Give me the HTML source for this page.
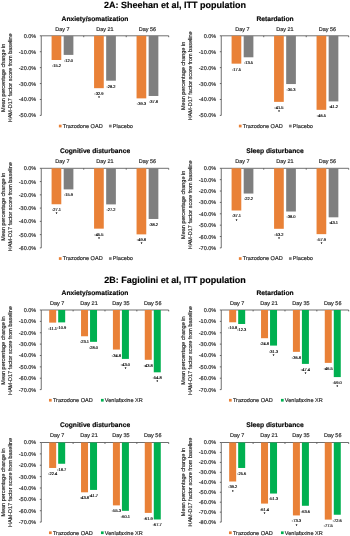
<!DOCTYPE html>
<html><head><meta charset="utf-8"><style>
html,body{margin:0;padding:0;background:#fff;width:350px;height:536px;overflow:hidden}
svg{display:block;will-change:transform;text-rendering:geometricPrecision;font-family:"Liberation Sans",sans-serif}
</style></head><body>
<svg width="350" height="536" viewBox="0 0 350 536">
<rect width="350" height="536" fill="#fff"/>
<text x="95" y="20.5" font-size="6.7" text-anchor="middle" font-weight="bold" fill="#000" stroke="#000" stroke-width="0.15">Anxiety/somatization</text>
<path d="M41.25 35.8V115.4M41.25 35.8H168.7" stroke="#555555" stroke-width="0.85" fill="none"/>
<path d="M39.85 35.8H41.25M39.85 51.72H41.25M39.85 67.64H41.25M39.85 83.56H41.25M39.85 99.48H41.25M39.85 115.4H41.25M83.73 35.8V37.2M126.22 35.8V37.2M168.7 35.8V37.2" stroke="#555555" stroke-width="0.9" fill="none"/>
<text x="36.2" y="37.78" font-size="5.5" text-anchor="end" font-weight="normal" fill="#262626" stroke="#262626" stroke-width="0.16">0.0%</text>
<text x="36.2" y="53.7" font-size="5.5" text-anchor="end" font-weight="normal" fill="#262626" stroke="#262626" stroke-width="0.16">-10.0%</text>
<text x="36.2" y="69.62" font-size="5.5" text-anchor="end" font-weight="normal" fill="#262626" stroke="#262626" stroke-width="0.16">-20.0%</text>
<text x="36.2" y="85.54" font-size="5.5" text-anchor="end" font-weight="normal" fill="#262626" stroke="#262626" stroke-width="0.16">-30.0%</text>
<text x="36.2" y="101.46" font-size="5.5" text-anchor="end" font-weight="normal" fill="#262626" stroke="#262626" stroke-width="0.16">-40.0%</text>
<text x="36.2" y="117.38" font-size="5.5" text-anchor="end" font-weight="normal" fill="#262626" stroke="#262626" stroke-width="0.16">-50.0%</text>
<text x="0" y="0" font-size="5.5" text-anchor="middle" font-weight="normal" fill="#262626" stroke="#262626" stroke-width="0.16" transform="translate(5.1 77.8) rotate(-90)">Mean percentage change in</text>
<text x="0" y="0" font-size="5.5" text-anchor="middle" font-weight="normal" fill="#262626" stroke="#262626" stroke-width="0.16" transform="translate(11.9 77.8) rotate(-90)">HAM-D17 factor score from baseline</text>
<text x="62.49" y="30.55" font-size="5.5" text-anchor="middle" font-weight="normal" fill="#262626" stroke="#262626" stroke-width="0.16">Day 7</text>
<rect x="51.59" y="35.8" width="9.7" height="24.2" fill="#E98137"/>
<text x="56.44" y="66.94" font-size="4.0" text-anchor="middle" font-weight="normal" fill="#000" stroke="#000" stroke-width="0.15">-15.2</text>
<rect x="63.69" y="35.8" width="9.7" height="19.1" fill="#7F7F7F"/>
<text x="68.54" y="61.84" font-size="4.0" text-anchor="middle" font-weight="normal" fill="#000" stroke="#000" stroke-width="0.15">-12.0</text>
<text x="104.97" y="30.55" font-size="5.5" text-anchor="middle" font-weight="normal" fill="#262626" stroke="#262626" stroke-width="0.16">Day 21</text>
<rect x="94.07" y="35.8" width="9.7" height="52.38" fill="#E98137"/>
<text x="98.92" y="95.12" font-size="4.0" text-anchor="middle" font-weight="normal" fill="#000" stroke="#000" stroke-width="0.15">-32.9</text>
<text x="98.92" y="99.28" font-size="4.0" text-anchor="middle" font-weight="normal" fill="#000" stroke="#000" stroke-width="0.15">*</text>
<rect x="106.17" y="35.8" width="9.7" height="44.89" fill="#7F7F7F"/>
<text x="111.02" y="87.63" font-size="4.0" text-anchor="middle" font-weight="normal" fill="#000" stroke="#000" stroke-width="0.15">-28.2</text>
<text x="147.46" y="30.55" font-size="5.5" text-anchor="middle" font-weight="normal" fill="#262626" stroke="#262626" stroke-width="0.16">Day 56</text>
<rect x="136.56" y="35.8" width="9.7" height="62.57" fill="#E98137"/>
<text x="141.41" y="105.31" font-size="4.0" text-anchor="middle" font-weight="normal" fill="#000" stroke="#000" stroke-width="0.15">-39.3</text>
<rect x="148.66" y="35.8" width="9.7" height="60.18" fill="#7F7F7F"/>
<text x="153.51" y="102.92" font-size="4.0" text-anchor="middle" font-weight="normal" fill="#000" stroke="#000" stroke-width="0.15">-37.8</text>
<text x="275" y="20.5" font-size="6.7" text-anchor="middle" font-weight="bold" fill="#000" stroke="#000" stroke-width="0.15">Retardation</text>
<path d="M221.25 35.8V115.4M221.25 35.8H348.7" stroke="#555555" stroke-width="0.85" fill="none"/>
<path d="M219.85 35.8H221.25M219.85 51.72H221.25M219.85 67.64H221.25M219.85 83.56H221.25M219.85 99.48H221.25M219.85 115.4H221.25M263.73 35.8V37.2M306.22 35.8V37.2M348.7 35.8V37.2" stroke="#555555" stroke-width="0.9" fill="none"/>
<text x="216.2" y="37.78" font-size="5.5" text-anchor="end" font-weight="normal" fill="#262626" stroke="#262626" stroke-width="0.16">0.0%</text>
<text x="216.2" y="53.7" font-size="5.5" text-anchor="end" font-weight="normal" fill="#262626" stroke="#262626" stroke-width="0.16">-10.0%</text>
<text x="216.2" y="69.62" font-size="5.5" text-anchor="end" font-weight="normal" fill="#262626" stroke="#262626" stroke-width="0.16">-20.0%</text>
<text x="216.2" y="85.54" font-size="5.5" text-anchor="end" font-weight="normal" fill="#262626" stroke="#262626" stroke-width="0.16">-30.0%</text>
<text x="216.2" y="101.46" font-size="5.5" text-anchor="end" font-weight="normal" fill="#262626" stroke="#262626" stroke-width="0.16">-40.0%</text>
<text x="216.2" y="117.38" font-size="5.5" text-anchor="end" font-weight="normal" fill="#262626" stroke="#262626" stroke-width="0.16">-50.0%</text>
<text x="0" y="0" font-size="5.5" text-anchor="middle" font-weight="normal" fill="#262626" stroke="#262626" stroke-width="0.16" transform="translate(185.1 75.9) rotate(-90)">Mean percentage change in</text>
<text x="0" y="0" font-size="5.5" text-anchor="middle" font-weight="normal" fill="#262626" stroke="#262626" stroke-width="0.16" transform="translate(191.9 75.9) rotate(-90)">HAM-D17 factor score from baseline</text>
<text x="242.49" y="30.55" font-size="5.5" text-anchor="middle" font-weight="normal" fill="#262626" stroke="#262626" stroke-width="0.16">Day 7</text>
<rect x="231.59" y="35.8" width="9.7" height="27.86" fill="#E98137"/>
<text x="236.44" y="70.6" font-size="4.0" text-anchor="middle" font-weight="normal" fill="#000" stroke="#000" stroke-width="0.15">-17.5</text>
<rect x="243.69" y="35.8" width="9.7" height="21.49" fill="#7F7F7F"/>
<text x="248.54" y="64.23" font-size="4.0" text-anchor="middle" font-weight="normal" fill="#000" stroke="#000" stroke-width="0.15">-13.5</text>
<text x="284.98" y="30.55" font-size="5.5" text-anchor="middle" font-weight="normal" fill="#262626" stroke="#262626" stroke-width="0.16">Day 21</text>
<rect x="274.08" y="35.8" width="9.7" height="66.07" fill="#E98137"/>
<text x="278.93" y="108.81" font-size="4.0" text-anchor="middle" font-weight="normal" fill="#000" stroke="#000" stroke-width="0.15">-41.5</text>
<text x="278.93" y="112.97" font-size="4.0" text-anchor="middle" font-weight="normal" fill="#000" stroke="#000" stroke-width="0.15">*</text>
<rect x="286.18" y="35.8" width="9.7" height="48.24" fill="#7F7F7F"/>
<text x="291.03" y="90.98" font-size="4.0" text-anchor="middle" font-weight="normal" fill="#000" stroke="#000" stroke-width="0.15">-30.3</text>
<text x="327.46" y="30.55" font-size="5.5" text-anchor="middle" font-weight="normal" fill="#262626" stroke="#262626" stroke-width="0.16">Day 56</text>
<rect x="316.56" y="35.8" width="9.7" height="74.03" fill="#E98137"/>
<text x="321.41" y="116.77" font-size="4.0" text-anchor="middle" font-weight="normal" fill="#000" stroke="#000" stroke-width="0.15">-46.5</text>
<rect x="328.66" y="35.8" width="9.7" height="65.59" fill="#7F7F7F"/>
<text x="333.51" y="108.33" font-size="4.0" text-anchor="middle" font-weight="normal" fill="#000" stroke="#000" stroke-width="0.15">-41.2</text>
<text x="95" y="153" font-size="6.7" text-anchor="middle" font-weight="bold" fill="#000" stroke="#000" stroke-width="0.15">Cognitive disturbance</text>
<path d="M41.25 168.3V247.9M41.25 168.3H168.7" stroke="#555555" stroke-width="0.85" fill="none"/>
<path d="M39.85 168.3H41.25M39.85 181.57H41.25M39.85 194.83H41.25M39.85 208.1H41.25M39.85 221.37H41.25M39.85 234.63H41.25M39.85 247.9H41.25M83.73 168.3V169.7M126.22 168.3V169.7M168.7 168.3V169.7" stroke="#555555" stroke-width="0.9" fill="none"/>
<text x="36.2" y="170.28" font-size="5.5" text-anchor="end" font-weight="normal" fill="#262626" stroke="#262626" stroke-width="0.16">0.0%</text>
<text x="36.2" y="183.55" font-size="5.5" text-anchor="end" font-weight="normal" fill="#262626" stroke="#262626" stroke-width="0.16">-10.0%</text>
<text x="36.2" y="196.81" font-size="5.5" text-anchor="end" font-weight="normal" fill="#262626" stroke="#262626" stroke-width="0.16">-20.0%</text>
<text x="36.2" y="210.08" font-size="5.5" text-anchor="end" font-weight="normal" fill="#262626" stroke="#262626" stroke-width="0.16">-30.0%</text>
<text x="36.2" y="223.35" font-size="5.5" text-anchor="end" font-weight="normal" fill="#262626" stroke="#262626" stroke-width="0.16">-40.0%</text>
<text x="36.2" y="236.61" font-size="5.5" text-anchor="end" font-weight="normal" fill="#262626" stroke="#262626" stroke-width="0.16">-50.0%</text>
<text x="36.2" y="249.88" font-size="5.5" text-anchor="end" font-weight="normal" fill="#262626" stroke="#262626" stroke-width="0.16">-60.0%</text>
<text x="0" y="0" font-size="5.5" text-anchor="middle" font-weight="normal" fill="#262626" stroke="#262626" stroke-width="0.16" transform="translate(5.1 206.7) rotate(-90)">Mean percentage change in</text>
<text x="0" y="0" font-size="5.5" text-anchor="middle" font-weight="normal" fill="#262626" stroke="#262626" stroke-width="0.16" transform="translate(11.9 206.7) rotate(-90)">HAM-D17 factor score from baseline</text>
<text x="62.49" y="163.05" font-size="5.5" text-anchor="middle" font-weight="normal" fill="#262626" stroke="#262626" stroke-width="0.16">Day 7</text>
<rect x="51.59" y="168.3" width="9.7" height="35.95" fill="#E98137"/>
<text x="56.44" y="211.19" font-size="4.0" text-anchor="middle" font-weight="normal" fill="#000" stroke="#000" stroke-width="0.15">-27.1</text>
<text x="56.44" y="215.35" font-size="4.0" text-anchor="middle" font-weight="normal" fill="#000" stroke="#000" stroke-width="0.15">*</text>
<rect x="63.69" y="168.3" width="9.7" height="21.09" fill="#7F7F7F"/>
<text x="68.54" y="196.33" font-size="4.0" text-anchor="middle" font-weight="normal" fill="#000" stroke="#000" stroke-width="0.15">-15.9</text>
<text x="104.97" y="163.05" font-size="5.5" text-anchor="middle" font-weight="normal" fill="#262626" stroke="#262626" stroke-width="0.16">Day 21</text>
<rect x="94.07" y="168.3" width="9.7" height="60.36" fill="#E98137"/>
<text x="98.92" y="235.6" font-size="4.0" text-anchor="middle" font-weight="normal" fill="#000" stroke="#000" stroke-width="0.15">-45.5</text>
<text x="98.92" y="239.76" font-size="4.0" text-anchor="middle" font-weight="normal" fill="#000" stroke="#000" stroke-width="0.15">*</text>
<rect x="106.17" y="168.3" width="9.7" height="36.09" fill="#7F7F7F"/>
<text x="111.02" y="211.33" font-size="4.0" text-anchor="middle" font-weight="normal" fill="#000" stroke="#000" stroke-width="0.15">-27.2</text>
<text x="147.46" y="163.05" font-size="5.5" text-anchor="middle" font-weight="normal" fill="#262626" stroke="#262626" stroke-width="0.16">Day 56</text>
<rect x="136.56" y="168.3" width="9.7" height="66.07" fill="#E98137"/>
<text x="141.41" y="241.31" font-size="4.0" text-anchor="middle" font-weight="normal" fill="#000" stroke="#000" stroke-width="0.15">-49.8</text>
<text x="141.41" y="245.47" font-size="4.0" text-anchor="middle" font-weight="normal" fill="#000" stroke="#000" stroke-width="0.15">*</text>
<rect x="148.66" y="168.3" width="9.7" height="50.68" fill="#7F7F7F"/>
<text x="153.51" y="225.92" font-size="4.0" text-anchor="middle" font-weight="normal" fill="#000" stroke="#000" stroke-width="0.15">-38.2</text>
<text x="275" y="153" font-size="6.7" text-anchor="middle" font-weight="bold" fill="#000" stroke="#000" stroke-width="0.15">Sleep disturbance</text>
<path d="M221.25 168.3V247.9M221.25 168.3H348.7" stroke="#555555" stroke-width="0.85" fill="none"/>
<path d="M219.85 168.3H221.25M219.85 179.67H221.25M219.85 191.04H221.25M219.85 202.41H221.25M219.85 213.79H221.25M219.85 225.16H221.25M219.85 236.53H221.25M219.85 247.9H221.25M263.73 168.3V169.7M306.22 168.3V169.7M348.7 168.3V169.7" stroke="#555555" stroke-width="0.9" fill="none"/>
<text x="216.2" y="170.28" font-size="5.5" text-anchor="end" font-weight="normal" fill="#262626" stroke="#262626" stroke-width="0.16">0.0%</text>
<text x="216.2" y="181.65" font-size="5.5" text-anchor="end" font-weight="normal" fill="#262626" stroke="#262626" stroke-width="0.16">-10.0%</text>
<text x="216.2" y="193.02" font-size="5.5" text-anchor="end" font-weight="normal" fill="#262626" stroke="#262626" stroke-width="0.16">-20.0%</text>
<text x="216.2" y="204.39" font-size="5.5" text-anchor="end" font-weight="normal" fill="#262626" stroke="#262626" stroke-width="0.16">-30.0%</text>
<text x="216.2" y="215.77" font-size="5.5" text-anchor="end" font-weight="normal" fill="#262626" stroke="#262626" stroke-width="0.16">-40.0%</text>
<text x="216.2" y="227.14" font-size="5.5" text-anchor="end" font-weight="normal" fill="#262626" stroke="#262626" stroke-width="0.16">-50.0%</text>
<text x="216.2" y="238.51" font-size="5.5" text-anchor="end" font-weight="normal" fill="#262626" stroke="#262626" stroke-width="0.16">-60.0%</text>
<text x="216.2" y="249.88" font-size="5.5" text-anchor="end" font-weight="normal" fill="#262626" stroke="#262626" stroke-width="0.16">-70.0%</text>
<text x="0" y="0" font-size="5.5" text-anchor="middle" font-weight="normal" fill="#262626" stroke="#262626" stroke-width="0.16" transform="translate(185.1 204.8) rotate(-90)">Mean percentage change in</text>
<text x="0" y="0" font-size="5.5" text-anchor="middle" font-weight="normal" fill="#262626" stroke="#262626" stroke-width="0.16" transform="translate(191.9 204.8) rotate(-90)">HAM-D17 factor score from baseline</text>
<text x="242.49" y="163.05" font-size="5.5" text-anchor="middle" font-weight="normal" fill="#262626" stroke="#262626" stroke-width="0.16">Day 7</text>
<rect x="231.59" y="168.3" width="9.7" height="42.19" fill="#E98137"/>
<text x="236.44" y="217.43" font-size="4.0" text-anchor="middle" font-weight="normal" fill="#000" stroke="#000" stroke-width="0.15">-37.1</text>
<text x="236.44" y="221.59" font-size="4.0" text-anchor="middle" font-weight="normal" fill="#000" stroke="#000" stroke-width="0.15">*</text>
<rect x="243.69" y="168.3" width="9.7" height="25.24" fill="#7F7F7F"/>
<text x="248.54" y="200.48" font-size="4.0" text-anchor="middle" font-weight="normal" fill="#000" stroke="#000" stroke-width="0.15">-22.2</text>
<text x="284.98" y="163.05" font-size="5.5" text-anchor="middle" font-weight="normal" fill="#262626" stroke="#262626" stroke-width="0.16">Day 21</text>
<rect x="274.08" y="168.3" width="9.7" height="60.5" fill="#E98137"/>
<text x="278.93" y="235.74" font-size="4.0" text-anchor="middle" font-weight="normal" fill="#000" stroke="#000" stroke-width="0.15">-53.2</text>
<text x="278.93" y="239.9" font-size="4.0" text-anchor="middle" font-weight="normal" fill="#000" stroke="#000" stroke-width="0.15">*</text>
<rect x="286.18" y="168.3" width="9.7" height="43.21" fill="#7F7F7F"/>
<text x="291.03" y="218.45" font-size="4.0" text-anchor="middle" font-weight="normal" fill="#000" stroke="#000" stroke-width="0.15">-38.0</text>
<text x="327.46" y="163.05" font-size="5.5" text-anchor="middle" font-weight="normal" fill="#262626" stroke="#262626" stroke-width="0.16">Day 56</text>
<rect x="316.56" y="168.3" width="9.7" height="65.84" fill="#E98137"/>
<text x="321.41" y="241.08" font-size="4.0" text-anchor="middle" font-weight="normal" fill="#000" stroke="#000" stroke-width="0.15">-57.9</text>
<text x="321.41" y="245.24" font-size="4.0" text-anchor="middle" font-weight="normal" fill="#000" stroke="#000" stroke-width="0.15">*</text>
<rect x="328.66" y="168.3" width="9.7" height="49.01" fill="#7F7F7F"/>
<text x="333.51" y="224.25" font-size="4.0" text-anchor="middle" font-weight="normal" fill="#000" stroke="#000" stroke-width="0.15">-43.1</text>
<text x="95" y="294.7" font-size="6.7" text-anchor="middle" font-weight="bold" fill="#000" stroke="#000" stroke-width="0.15">Anxiety/somatization</text>
<path d="M41.25 310V389.6M41.25 310H168.7" stroke="#555555" stroke-width="0.85" fill="none"/>
<path d="M39.85 310H41.25M39.85 321.37H41.25M39.85 332.74H41.25M39.85 344.11H41.25M39.85 355.49H41.25M39.85 366.86H41.25M39.85 378.23H41.25M39.85 389.6H41.25M73.11 310V311.4M104.97 310V311.4M136.84 310V311.4M168.7 310V311.4" stroke="#555555" stroke-width="0.9" fill="none"/>
<text x="36.2" y="311.98" font-size="5.5" text-anchor="end" font-weight="normal" fill="#262626" stroke="#262626" stroke-width="0.16">0.0%</text>
<text x="36.2" y="323.35" font-size="5.5" text-anchor="end" font-weight="normal" fill="#262626" stroke="#262626" stroke-width="0.16">-10.0%</text>
<text x="36.2" y="334.72" font-size="5.5" text-anchor="end" font-weight="normal" fill="#262626" stroke="#262626" stroke-width="0.16">-20.0%</text>
<text x="36.2" y="346.09" font-size="5.5" text-anchor="end" font-weight="normal" fill="#262626" stroke="#262626" stroke-width="0.16">-30.0%</text>
<text x="36.2" y="357.47" font-size="5.5" text-anchor="end" font-weight="normal" fill="#262626" stroke="#262626" stroke-width="0.16">-40.0%</text>
<text x="36.2" y="368.84" font-size="5.5" text-anchor="end" font-weight="normal" fill="#262626" stroke="#262626" stroke-width="0.16">-50.0%</text>
<text x="36.2" y="380.21" font-size="5.5" text-anchor="end" font-weight="normal" fill="#262626" stroke="#262626" stroke-width="0.16">-60.0%</text>
<text x="36.2" y="391.58" font-size="5.5" text-anchor="end" font-weight="normal" fill="#262626" stroke="#262626" stroke-width="0.16">-70.0%</text>
<text x="0" y="0" font-size="5.5" text-anchor="middle" font-weight="normal" fill="#262626" stroke="#262626" stroke-width="0.16" transform="translate(5.1 350.6) rotate(-90)">Mean percentage change in</text>
<text x="0" y="0" font-size="5.5" text-anchor="middle" font-weight="normal" fill="#262626" stroke="#262626" stroke-width="0.16" transform="translate(11.9 350.6) rotate(-90)">HAM-D17 factor score from baseline</text>
<text x="57.18" y="304.75" font-size="5.5" text-anchor="middle" font-weight="normal" fill="#262626" stroke="#262626" stroke-width="0.16">Day 7</text>
<rect x="49.18" y="310" width="7" height="12.62" fill="#E98137"/>
<text x="52.68" y="329.56" font-size="4.0" text-anchor="middle" font-weight="normal" fill="#000" stroke="#000" stroke-width="0.15">-11.1</text>
<rect x="58.18" y="310" width="7" height="12.39" fill="#00B050"/>
<text x="61.68" y="329.33" font-size="4.0" text-anchor="middle" font-weight="normal" fill="#000" stroke="#000" stroke-width="0.15">-10.9</text>
<text x="89.04" y="304.75" font-size="5.5" text-anchor="middle" font-weight="normal" fill="#262626" stroke="#262626" stroke-width="0.16">Day 21</text>
<rect x="81.04" y="310" width="7" height="26.27" fill="#E98137"/>
<text x="84.54" y="343.21" font-size="4.0" text-anchor="middle" font-weight="normal" fill="#000" stroke="#000" stroke-width="0.15">-23.1</text>
<rect x="90.04" y="310" width="7" height="31.84" fill="#00B050"/>
<text x="93.54" y="348.78" font-size="4.0" text-anchor="middle" font-weight="normal" fill="#000" stroke="#000" stroke-width="0.15">-28.0</text>
<text x="120.91" y="304.75" font-size="5.5" text-anchor="middle" font-weight="normal" fill="#262626" stroke="#262626" stroke-width="0.16">Day 35</text>
<rect x="112.91" y="310" width="7" height="39.57" fill="#E98137"/>
<text x="116.41" y="356.51" font-size="4.0" text-anchor="middle" font-weight="normal" fill="#000" stroke="#000" stroke-width="0.15">-34.8</text>
<rect x="121.91" y="310" width="7" height="48.9" fill="#00B050"/>
<text x="125.41" y="365.84" font-size="4.0" text-anchor="middle" font-weight="normal" fill="#000" stroke="#000" stroke-width="0.15">-43.0</text>
<text x="125.41" y="370" font-size="4.0" text-anchor="middle" font-weight="normal" fill="#000" stroke="#000" stroke-width="0.15">*</text>
<text x="152.77" y="304.75" font-size="5.5" text-anchor="middle" font-weight="normal" fill="#262626" stroke="#262626" stroke-width="0.16">Day 56</text>
<rect x="144.77" y="310" width="7" height="49.81" fill="#E98137"/>
<text x="148.27" y="366.75" font-size="4.0" text-anchor="middle" font-weight="normal" fill="#000" stroke="#000" stroke-width="0.15">-43.8</text>
<rect x="153.77" y="310" width="7" height="62.32" fill="#00B050"/>
<text x="157.27" y="379.26" font-size="4.0" text-anchor="middle" font-weight="normal" fill="#000" stroke="#000" stroke-width="0.15">-54.8</text>
<text x="157.27" y="383.42" font-size="4.0" text-anchor="middle" font-weight="normal" fill="#000" stroke="#000" stroke-width="0.15">*</text>
<text x="275" y="294.7" font-size="6.7" text-anchor="middle" font-weight="bold" fill="#000" stroke="#000" stroke-width="0.15">Retardation</text>
<path d="M221.25 310V389.6M221.25 310H348.7" stroke="#555555" stroke-width="0.85" fill="none"/>
<path d="M219.85 310H221.25M219.85 321.37H221.25M219.85 332.74H221.25M219.85 344.11H221.25M219.85 355.49H221.25M219.85 366.86H221.25M219.85 378.23H221.25M219.85 389.6H221.25M253.11 310V311.4M284.98 310V311.4M316.84 310V311.4M348.7 310V311.4" stroke="#555555" stroke-width="0.9" fill="none"/>
<text x="216.2" y="311.98" font-size="5.5" text-anchor="end" font-weight="normal" fill="#262626" stroke="#262626" stroke-width="0.16">0.0%</text>
<text x="216.2" y="323.35" font-size="5.5" text-anchor="end" font-weight="normal" fill="#262626" stroke="#262626" stroke-width="0.16">-10.0%</text>
<text x="216.2" y="334.72" font-size="5.5" text-anchor="end" font-weight="normal" fill="#262626" stroke="#262626" stroke-width="0.16">-20.0%</text>
<text x="216.2" y="346.09" font-size="5.5" text-anchor="end" font-weight="normal" fill="#262626" stroke="#262626" stroke-width="0.16">-30.0%</text>
<text x="216.2" y="357.47" font-size="5.5" text-anchor="end" font-weight="normal" fill="#262626" stroke="#262626" stroke-width="0.16">-40.0%</text>
<text x="216.2" y="368.84" font-size="5.5" text-anchor="end" font-weight="normal" fill="#262626" stroke="#262626" stroke-width="0.16">-50.0%</text>
<text x="216.2" y="380.21" font-size="5.5" text-anchor="end" font-weight="normal" fill="#262626" stroke="#262626" stroke-width="0.16">-60.0%</text>
<text x="216.2" y="391.58" font-size="5.5" text-anchor="end" font-weight="normal" fill="#262626" stroke="#262626" stroke-width="0.16">-70.0%</text>
<text x="0" y="0" font-size="5.5" text-anchor="middle" font-weight="normal" fill="#262626" stroke="#262626" stroke-width="0.16" transform="translate(185.1 350.6) rotate(-90)">Mean percentage change in</text>
<text x="0" y="0" font-size="5.5" text-anchor="middle" font-weight="normal" fill="#262626" stroke="#262626" stroke-width="0.16" transform="translate(191.9 350.6) rotate(-90)">HAM-D17 factor score from baseline</text>
<text x="237.18" y="304.75" font-size="5.5" text-anchor="middle" font-weight="normal" fill="#262626" stroke="#262626" stroke-width="0.16">Day 7</text>
<rect x="229.18" y="310" width="7" height="12.28" fill="#E98137"/>
<text x="232.68" y="329.22" font-size="4.0" text-anchor="middle" font-weight="normal" fill="#000" stroke="#000" stroke-width="0.15">-10.8</text>
<rect x="238.18" y="310" width="7" height="13.99" fill="#00B050"/>
<text x="241.68" y="330.93" font-size="4.0" text-anchor="middle" font-weight="normal" fill="#000" stroke="#000" stroke-width="0.15">-12.3</text>
<text x="269.04" y="304.75" font-size="5.5" text-anchor="middle" font-weight="normal" fill="#262626" stroke="#262626" stroke-width="0.16">Day 21</text>
<rect x="261.04" y="310" width="7" height="28.2" fill="#E98137"/>
<text x="264.54" y="345.14" font-size="4.0" text-anchor="middle" font-weight="normal" fill="#000" stroke="#000" stroke-width="0.15">-24.8</text>
<rect x="270.04" y="310" width="7" height="35.59" fill="#00B050"/>
<text x="273.54" y="352.53" font-size="4.0" text-anchor="middle" font-weight="normal" fill="#000" stroke="#000" stroke-width="0.15">-31.3</text>
<text x="273.54" y="356.69" font-size="4.0" text-anchor="middle" font-weight="normal" fill="#000" stroke="#000" stroke-width="0.15">*</text>
<text x="300.91" y="304.75" font-size="5.5" text-anchor="middle" font-weight="normal" fill="#262626" stroke="#262626" stroke-width="0.16">Day 35</text>
<rect x="292.91" y="310" width="7" height="41.85" fill="#E98137"/>
<text x="296.41" y="358.79" font-size="4.0" text-anchor="middle" font-weight="normal" fill="#000" stroke="#000" stroke-width="0.15">-36.8</text>
<rect x="301.91" y="310" width="7" height="53.9" fill="#00B050"/>
<text x="305.41" y="370.84" font-size="4.0" text-anchor="middle" font-weight="normal" fill="#000" stroke="#000" stroke-width="0.15">-47.4</text>
<text x="305.41" y="375" font-size="4.0" text-anchor="middle" font-weight="normal" fill="#000" stroke="#000" stroke-width="0.15">*</text>
<text x="332.77" y="304.75" font-size="5.5" text-anchor="middle" font-weight="normal" fill="#262626" stroke="#262626" stroke-width="0.16">Day 56</text>
<rect x="324.77" y="310" width="7" height="52.88" fill="#E98137"/>
<text x="328.27" y="369.82" font-size="4.0" text-anchor="middle" font-weight="normal" fill="#000" stroke="#000" stroke-width="0.15">-46.5</text>
<rect x="333.77" y="310" width="7" height="67.09" fill="#00B050"/>
<text x="337.27" y="384.03" font-size="4.0" text-anchor="middle" font-weight="normal" fill="#000" stroke="#000" stroke-width="0.15">-59.0</text>
<text x="337.27" y="388.19" font-size="4.0" text-anchor="middle" font-weight="normal" fill="#000" stroke="#000" stroke-width="0.15">*</text>
<text x="95" y="427.2" font-size="6.7" text-anchor="middle" font-weight="bold" fill="#000" stroke="#000" stroke-width="0.15">Cognitive disturbance</text>
<path d="M41.25 442.5V522.1M41.25 442.5H168.7" stroke="#555555" stroke-width="0.85" fill="none"/>
<path d="M39.85 442.5H41.25M39.85 453.87H41.25M39.85 465.24H41.25M39.85 476.61H41.25M39.85 487.99H41.25M39.85 499.36H41.25M39.85 510.73H41.25M39.85 522.1H41.25M73.11 442.5V443.9M104.97 442.5V443.9M136.84 442.5V443.9M168.7 442.5V443.9" stroke="#555555" stroke-width="0.9" fill="none"/>
<text x="36.2" y="444.48" font-size="5.5" text-anchor="end" font-weight="normal" fill="#262626" stroke="#262626" stroke-width="0.16">0.0%</text>
<text x="36.2" y="455.85" font-size="5.5" text-anchor="end" font-weight="normal" fill="#262626" stroke="#262626" stroke-width="0.16">-10.0%</text>
<text x="36.2" y="467.22" font-size="5.5" text-anchor="end" font-weight="normal" fill="#262626" stroke="#262626" stroke-width="0.16">-20.0%</text>
<text x="36.2" y="478.59" font-size="5.5" text-anchor="end" font-weight="normal" fill="#262626" stroke="#262626" stroke-width="0.16">-30.0%</text>
<text x="36.2" y="489.97" font-size="5.5" text-anchor="end" font-weight="normal" fill="#262626" stroke="#262626" stroke-width="0.16">-40.0%</text>
<text x="36.2" y="501.34" font-size="5.5" text-anchor="end" font-weight="normal" fill="#262626" stroke="#262626" stroke-width="0.16">-50.0%</text>
<text x="36.2" y="512.71" font-size="5.5" text-anchor="end" font-weight="normal" fill="#262626" stroke="#262626" stroke-width="0.16">-60.0%</text>
<text x="36.2" y="524.08" font-size="5.5" text-anchor="end" font-weight="normal" fill="#262626" stroke="#262626" stroke-width="0.16">-70.0%</text>
<text x="0" y="0" font-size="5.5" text-anchor="middle" font-weight="normal" fill="#262626" stroke="#262626" stroke-width="0.16" transform="translate(5.1 482.5) rotate(-90)">Mean percentage change in</text>
<text x="0" y="0" font-size="5.5" text-anchor="middle" font-weight="normal" fill="#262626" stroke="#262626" stroke-width="0.16" transform="translate(11.9 482.5) rotate(-90)">HAM-D17 factor score from baseline</text>
<text x="57.18" y="437.25" font-size="5.5" text-anchor="middle" font-weight="normal" fill="#262626" stroke="#262626" stroke-width="0.16">Day 7</text>
<rect x="49.18" y="442.5" width="7" height="25.47" fill="#E98137"/>
<text x="52.68" y="474.91" font-size="4.0" text-anchor="middle" font-weight="normal" fill="#000" stroke="#000" stroke-width="0.15">-22.4</text>
<rect x="58.18" y="442.5" width="7" height="21.26" fill="#00B050"/>
<text x="61.68" y="470.7" font-size="4.0" text-anchor="middle" font-weight="normal" fill="#000" stroke="#000" stroke-width="0.15">-18.7</text>
<text x="89.04" y="437.25" font-size="5.5" text-anchor="middle" font-weight="normal" fill="#262626" stroke="#262626" stroke-width="0.16">Day 21</text>
<rect x="81.04" y="442.5" width="7" height="49.81" fill="#E98137"/>
<text x="84.54" y="499.25" font-size="4.0" text-anchor="middle" font-weight="normal" fill="#000" stroke="#000" stroke-width="0.15">-43.8</text>
<rect x="90.04" y="442.5" width="7" height="47.42" fill="#00B050"/>
<text x="93.54" y="496.86" font-size="4.0" text-anchor="middle" font-weight="normal" fill="#000" stroke="#000" stroke-width="0.15">-41.7</text>
<text x="120.91" y="437.25" font-size="5.5" text-anchor="middle" font-weight="normal" fill="#262626" stroke="#262626" stroke-width="0.16">Day 35</text>
<rect x="112.91" y="442.5" width="7" height="62.88" fill="#E98137"/>
<text x="116.41" y="512.32" font-size="4.0" text-anchor="middle" font-weight="normal" fill="#000" stroke="#000" stroke-width="0.15">-55.3</text>
<rect x="121.91" y="442.5" width="7" height="68.34" fill="#00B050"/>
<text x="125.41" y="517.78" font-size="4.0" text-anchor="middle" font-weight="normal" fill="#000" stroke="#000" stroke-width="0.15">-60.1</text>
<text x="152.77" y="437.25" font-size="5.5" text-anchor="middle" font-weight="normal" fill="#262626" stroke="#262626" stroke-width="0.16">Day 56</text>
<rect x="144.77" y="442.5" width="7" height="70.39" fill="#E98137"/>
<text x="148.27" y="519.83" font-size="4.0" text-anchor="middle" font-weight="normal" fill="#000" stroke="#000" stroke-width="0.15">-61.9</text>
<rect x="153.77" y="442.5" width="7" height="76.98" fill="#00B050"/>
<text x="157.27" y="526.42" font-size="4.0" text-anchor="middle" font-weight="normal" fill="#000" stroke="#000" stroke-width="0.15">-67.7</text>
<text x="275" y="427.2" font-size="6.7" text-anchor="middle" font-weight="bold" fill="#000" stroke="#000" stroke-width="0.15">Sleep disturbance</text>
<path d="M221.25 442.5V522.1M221.25 442.5H348.7" stroke="#555555" stroke-width="0.85" fill="none"/>
<path d="M219.85 442.5H221.25M219.85 452.45H221.25M219.85 462.4H221.25M219.85 472.35H221.25M219.85 482.3H221.25M219.85 492.25H221.25M219.85 502.2H221.25M219.85 512.15H221.25M219.85 522.1H221.25M253.11 442.5V443.9M284.98 442.5V443.9M316.84 442.5V443.9M348.7 442.5V443.9" stroke="#555555" stroke-width="0.9" fill="none"/>
<text x="216.2" y="444.48" font-size="5.5" text-anchor="end" font-weight="normal" fill="#262626" stroke="#262626" stroke-width="0.16">0.0%</text>
<text x="216.2" y="454.43" font-size="5.5" text-anchor="end" font-weight="normal" fill="#262626" stroke="#262626" stroke-width="0.16">-10.0%</text>
<text x="216.2" y="464.38" font-size="5.5" text-anchor="end" font-weight="normal" fill="#262626" stroke="#262626" stroke-width="0.16">-20.0%</text>
<text x="216.2" y="474.33" font-size="5.5" text-anchor="end" font-weight="normal" fill="#262626" stroke="#262626" stroke-width="0.16">-30.0%</text>
<text x="216.2" y="484.28" font-size="5.5" text-anchor="end" font-weight="normal" fill="#262626" stroke="#262626" stroke-width="0.16">-40.0%</text>
<text x="216.2" y="494.23" font-size="5.5" text-anchor="end" font-weight="normal" fill="#262626" stroke="#262626" stroke-width="0.16">-50.0%</text>
<text x="216.2" y="504.18" font-size="5.5" text-anchor="end" font-weight="normal" fill="#262626" stroke="#262626" stroke-width="0.16">-60.0%</text>
<text x="216.2" y="514.13" font-size="5.5" text-anchor="end" font-weight="normal" fill="#262626" stroke="#262626" stroke-width="0.16">-70.0%</text>
<text x="216.2" y="524.08" font-size="5.5" text-anchor="end" font-weight="normal" fill="#262626" stroke="#262626" stroke-width="0.16">-80.0%</text>
<text x="0" y="0" font-size="5.5" text-anchor="middle" font-weight="normal" fill="#262626" stroke="#262626" stroke-width="0.16" transform="translate(185.1 482.1) rotate(-90)">Mean percentage change in</text>
<text x="0" y="0" font-size="5.5" text-anchor="middle" font-weight="normal" fill="#262626" stroke="#262626" stroke-width="0.16" transform="translate(191.9 482.1) rotate(-90)">HAM-D17 factor score from baseline</text>
<text x="237.18" y="437.25" font-size="5.5" text-anchor="middle" font-weight="normal" fill="#262626" stroke="#262626" stroke-width="0.16">Day 7</text>
<rect x="229.18" y="442.5" width="7" height="39" fill="#E98137"/>
<text x="232.68" y="488.44" font-size="4.0" text-anchor="middle" font-weight="normal" fill="#000" stroke="#000" stroke-width="0.15">-39.2</text>
<text x="232.68" y="492.6" font-size="4.0" text-anchor="middle" font-weight="normal" fill="#000" stroke="#000" stroke-width="0.15">*</text>
<rect x="238.18" y="442.5" width="7" height="25.47" fill="#00B050"/>
<text x="241.68" y="474.91" font-size="4.0" text-anchor="middle" font-weight="normal" fill="#000" stroke="#000" stroke-width="0.15">-25.6</text>
<text x="269.04" y="437.25" font-size="5.5" text-anchor="middle" font-weight="normal" fill="#262626" stroke="#262626" stroke-width="0.16">Day 21</text>
<rect x="261.04" y="442.5" width="7" height="61.09" fill="#E98137"/>
<text x="264.54" y="510.53" font-size="4.0" text-anchor="middle" font-weight="normal" fill="#000" stroke="#000" stroke-width="0.15">-61.4</text>
<text x="264.54" y="514.69" font-size="4.0" text-anchor="middle" font-weight="normal" fill="#000" stroke="#000" stroke-width="0.15">*</text>
<rect x="270.04" y="442.5" width="7" height="51.04" fill="#00B050"/>
<text x="273.54" y="500.48" font-size="4.0" text-anchor="middle" font-weight="normal" fill="#000" stroke="#000" stroke-width="0.15">-51.3</text>
<text x="300.91" y="437.25" font-size="5.5" text-anchor="middle" font-weight="normal" fill="#262626" stroke="#262626" stroke-width="0.16">Day 35</text>
<rect x="292.91" y="442.5" width="7" height="72.93" fill="#E98137"/>
<text x="296.41" y="522.37" font-size="4.0" text-anchor="middle" font-weight="normal" fill="#000" stroke="#000" stroke-width="0.15">-73.3</text>
<text x="296.41" y="526.53" font-size="4.0" text-anchor="middle" font-weight="normal" fill="#000" stroke="#000" stroke-width="0.15">*</text>
<rect x="301.91" y="442.5" width="7" height="63.28" fill="#00B050"/>
<text x="305.41" y="512.72" font-size="4.0" text-anchor="middle" font-weight="normal" fill="#000" stroke="#000" stroke-width="0.15">-63.6</text>
<text x="332.77" y="437.25" font-size="5.5" text-anchor="middle" font-weight="normal" fill="#262626" stroke="#262626" stroke-width="0.16">Day 56</text>
<rect x="324.77" y="442.5" width="7" height="77.11" fill="#E98137"/>
<text x="328.27" y="526.55" font-size="4.0" text-anchor="middle" font-weight="normal" fill="#000" stroke="#000" stroke-width="0.15">-77.5</text>
<rect x="333.77" y="442.5" width="7" height="72.24" fill="#00B050"/>
<text x="337.27" y="521.68" font-size="4.0" text-anchor="middle" font-weight="normal" fill="#000" stroke="#000" stroke-width="0.15">-72.6</text>
<text x="62.77" y="127.9" font-size="5.55" text-anchor="start" font-weight="normal" fill="#262626" stroke="#262626" stroke-width="0.16">Trazodone OAD</text>
<text x="112.87" y="127.9" font-size="5.55" text-anchor="start" font-weight="normal" fill="#262626" stroke="#262626" stroke-width="0.16">Placebo</text>
<text x="242.77" y="127.9" font-size="5.55" text-anchor="start" font-weight="normal" fill="#262626" stroke="#262626" stroke-width="0.16">Trazodone OAD</text>
<text x="292.87" y="127.9" font-size="5.55" text-anchor="start" font-weight="normal" fill="#262626" stroke="#262626" stroke-width="0.16">Placebo</text>
<text x="62.77" y="260.4" font-size="5.55" text-anchor="start" font-weight="normal" fill="#262626" stroke="#262626" stroke-width="0.16">Trazodone OAD</text>
<text x="112.87" y="260.4" font-size="5.55" text-anchor="start" font-weight="normal" fill="#262626" stroke="#262626" stroke-width="0.16">Placebo</text>
<text x="242.77" y="260.4" font-size="5.55" text-anchor="start" font-weight="normal" fill="#262626" stroke="#262626" stroke-width="0.16">Trazodone OAD</text>
<text x="292.87" y="260.4" font-size="5.55" text-anchor="start" font-weight="normal" fill="#262626" stroke="#262626" stroke-width="0.16">Placebo</text>
<text x="52.88" y="402.1" font-size="5.55" text-anchor="start" font-weight="normal" fill="#262626" stroke="#262626" stroke-width="0.16">Trazodone OAD</text>
<text x="104.87" y="402.1" font-size="5.55" text-anchor="start" font-weight="normal" fill="#262626" stroke="#262626" stroke-width="0.16">Venlafaxine XR</text>
<text x="232.88" y="402.1" font-size="5.55" text-anchor="start" font-weight="normal" fill="#262626" stroke="#262626" stroke-width="0.16">Trazodone OAD</text>
<text x="284.87" y="402.1" font-size="5.55" text-anchor="start" font-weight="normal" fill="#262626" stroke="#262626" stroke-width="0.16">Venlafaxine XR</text>
<text x="52.88" y="534.6" font-size="5.55" text-anchor="start" font-weight="normal" fill="#262626" stroke="#262626" stroke-width="0.16">Trazodone OAD</text>
<text x="104.87" y="534.6" font-size="5.55" text-anchor="start" font-weight="normal" fill="#262626" stroke="#262626" stroke-width="0.16">Venlafaxine XR</text>
<text x="232.88" y="534.6" font-size="5.55" text-anchor="start" font-weight="normal" fill="#262626" stroke="#262626" stroke-width="0.16">Trazodone OAD</text>
<text x="284.87" y="534.6" font-size="5.55" text-anchor="start" font-weight="normal" fill="#262626" stroke="#262626" stroke-width="0.16">Venlafaxine XR</text>
<text x="175" y="7.6" font-size="9.0" text-anchor="middle" font-weight="bold" fill="#000" stroke="#000" stroke-width="0.15">2A: Sheehan et al, ITT population</text>
<text x="175" y="282.6" font-size="9.0" text-anchor="middle" font-weight="bold" fill="#000" stroke="#000" stroke-width="0.15">2B: Fagiolini et al, ITT population</text>
<rect x="58.87" y="124.7" width="2.7" height="2.7" fill="#E98137"/>
<rect x="108.97" y="124.7" width="2.7" height="2.7" fill="#7F7F7F"/>
<rect x="238.87" y="124.7" width="2.7" height="2.7" fill="#E98137"/>
<rect x="288.97" y="124.7" width="2.7" height="2.7" fill="#7F7F7F"/>
<rect x="58.87" y="257.2" width="2.7" height="2.7" fill="#E98137"/>
<rect x="108.97" y="257.2" width="2.7" height="2.7" fill="#7F7F7F"/>
<rect x="238.87" y="257.2" width="2.7" height="2.7" fill="#E98137"/>
<rect x="288.97" y="257.2" width="2.7" height="2.7" fill="#7F7F7F"/>
<rect x="48.98" y="398.9" width="2.7" height="2.7" fill="#E98137"/>
<rect x="100.97" y="398.9" width="2.7" height="2.7" fill="#00B050"/>
<rect x="228.98" y="398.9" width="2.7" height="2.7" fill="#E98137"/>
<rect x="280.97" y="398.9" width="2.7" height="2.7" fill="#00B050"/>
<rect x="48.98" y="531.4" width="2.7" height="2.7" fill="#E98137"/>
<rect x="100.97" y="531.4" width="2.7" height="2.7" fill="#00B050"/>
<rect x="228.98" y="531.4" width="2.7" height="2.7" fill="#E98137"/>
<rect x="280.97" y="531.4" width="2.7" height="2.7" fill="#00B050"/>
</svg></body></html>
